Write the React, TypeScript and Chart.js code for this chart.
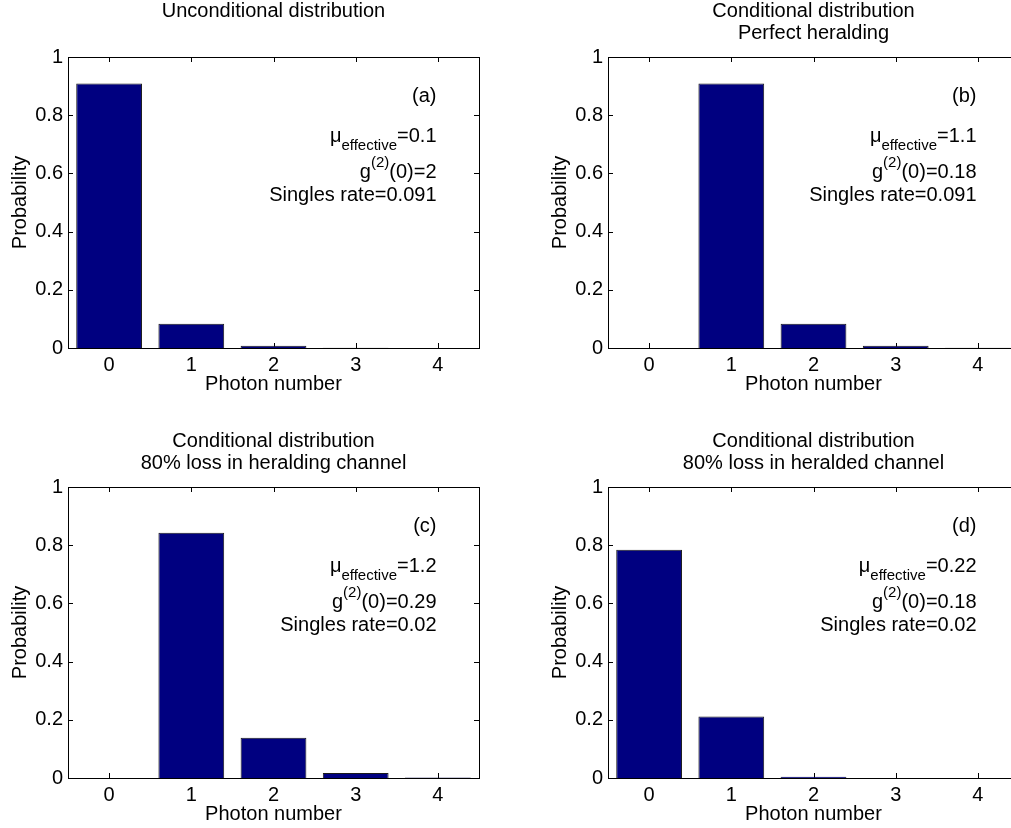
import React, { useEffect, useRef } from 'react';
import { Chart, registerables } from 'chart.js';

Chart.register(...registerables);

const FONT = '"Liberation Sans", Arial, Helvetica, sans-serif';

// ---- data ----
const photonNumbers = ['0', '1', '2', '3', '4'];
const yTickValues = [0, 0.2, 0.4, 0.6, 0.8, 1];

const probUnconditional = [0.909, 0.083, 0.0075, 0.0007, 0.0001];
const probPerfectHerald = [0, 0.909, 0.083, 0.0075, 0.0007];
const probHeraldingLoss = [0, 0.843, 0.138, 0.017, 0.002];
const probHeraldedLoss = [0.784, 0.211, 0.0045, 0.0002, 0];

const titleA = ['Unconditional distribution'];
const titleB = ['Conditional distribution', 'Perfect heralding'];
const titleC = ['Conditional distribution', '80% loss in heralding channel'];
const titleD = ['Conditional distribution', '80% loss in heralded channel'];

const panelLabels = ['(a)', '(b)', '(c)', '(d)'];
const muValues = ['0.1', '1.1', '1.2', '0.22'];
const g2Values = ['2', '0.18', '0.29', '0.18'];
const singlesValues = ['0.091', '0.091', '0.02', '0.02'];

type PanelProps = {
  values: number[];
  title: string[];
  label: string;
  mu: string;
  g2: string;
  singles: string;
  left: number;
  top: number;
};

const CANVAS_W = 505;
const CANVAS_H = 410;

function Panel({ values, title, label, mu, g2, singles, left, top }: PanelProps) {
  const ref = useRef<HTMLCanvasElement>(null);

  useEffect(() => {
    const canvas = ref.current;
    if (!canvas) return;

    const matlabPlugin = {
      id: 'matlabAxes',
      beforeDatasetsDraw(chart: any) {
        const { ctx, chartArea: a, scales } = chart;
        ctx.save();
        ctx.strokeStyle = '#000';
        ctx.lineWidth = 1;
        ctx.beginPath();
        yTickValues.forEach((v) => {
          const y = Math.round(scales.y.getPixelForValue(v)) + 0.5;
          ctx.moveTo(a.left, y);
          ctx.lineTo(a.left + 5, y);
          ctx.moveTo(a.right, y);
          ctx.lineTo(a.right - 5, y);
        });
        photonNumbers.forEach((_, i) => {
          const x = Math.round(scales.x.getPixelForValue(i)) + 0.5;
          ctx.moveTo(x, a.bottom);
          ctx.lineTo(x, a.bottom - 5);
          ctx.moveTo(x, a.top);
          ctx.lineTo(x, a.top + 5);
        });
        ctx.stroke();
        ctx.restore();
      },
      afterDatasetsDraw(chart: any) {
        const { ctx, chartArea: a } = chart;
        ctx.save();
        ctx.strokeStyle = '#000';
        ctx.lineWidth = 1;
        const l = Math.round(a.left) + 0.5;
        const t = Math.round(a.top) + 0.5;
        const r = Math.round(a.right) + 0.5;
        const b = Math.round(a.bottom) + 0.5;
        ctx.strokeRect(l, t, r - l, b - t);
        ctx.restore();
      },
      afterDraw(chart: any) {
        const { ctx, chartArea: a } = chart;
        const R = a.right - 42.5;
        const main = `20px ${FONT}`;
        const small = `15px ${FONT}`;
        ctx.save();
        ctx.fillStyle = '#000';
        ctx.textBaseline = 'middle';
        ctx.textAlign = 'left';
        const drawSegs = (segs: [string, string, number][], yc: number) => {
          const widths = segs.map(([t, f]) => {
            ctx.font = f;
            return ctx.measureText(t).width;
          });
          const total = widths.reduce((s, w) => s + w, 0);
          let x = R - total;
          segs.forEach(([t, f, dy], i) => {
            ctx.font = f;
            ctx.fillText(t, x, yc + dy);
            x += widths[i];
          });
        };
        drawSegs([[label, main, 0]], a.top + 39);
        drawSegs(
          [
            ['\u03bc', main, 0],
            ['effective', small, 10],
            ['=' + mu, main, 0],
          ],
          a.top + 79
        );
        drawSegs(
          [
            ['g', main, 0],
            ['(2)', small, -9],
            ['(0)=' + g2, main, 0],
          ],
          a.top + 115
        );
        drawSegs([['Singles rate=' + singles, main, 0]], a.top + 138);
        ctx.restore();
      },
    };

    const chart = new Chart(canvas, {
      type: 'bar',
      data: {
        labels: photonNumbers,
        datasets: [
          {
            data: values,
            backgroundColor: '#000080',
            borderColor: '#1a1a1a',
            borderWidth: 1,
            barPercentage: 0.8,
            categoryPercentage: 1,
          },
        ],
      },
      options: {
        animation: false,
        responsive: false,
        devicePixelRatio: 1,
        layout: { padding: { left: 0, right: 26, top: 0, bottom: 0 } },
        plugins: {
          legend: { display: false },
          tooltip: { enabled: false },
          title: {
            display: true,
            text: title,
            fullSize: false,
            color: '#000',
            font: { family: FONT, size: 20, weight: 'normal', lineHeight: '22.5px' },
            padding: { top: 0, bottom: title.length > 1 ? 12 : 34.5 },
          },
        },
        scales: {
          x: {
            grid: { display: false, drawTicks: false },
            border: { display: false },
            ticks: {
              color: '#000',
              font: { family: FONT, size: 20, lineHeight: 1.2 },
              padding: 5,
              maxRotation: 0,
            },
            title: {
              display: true,
              text: 'Photon number',
              color: '#000',
              font: { family: FONT, size: 20, lineHeight: 1.2 },
              padding: { top: 0, bottom: 14 },
            },
            afterFit: (s: any) => {
              s.height = 62;
            },
          },
          y: {
            min: 0,
            max: 1,
            grid: { display: false, drawTicks: false },
            border: { display: false },
            afterBuildTicks: (s: any) => {
              s.ticks = yTickValues.map((v) => ({ value: v }));
            },
            ticks: {
              color: '#000',
              font: { family: FONT, size: 20, lineHeight: 1.2 },
              padding: 5,
              callback: (v: any) => String(+Number(v).toFixed(1)),
            },
            title: {
              display: true,
              text: 'Probability',
              color: '#000',
              font: { family: FONT, size: 20, lineHeight: 1.2 },
              padding: { top: 8, bottom: 0 },
            },
            afterFit: (s: any) => {
              s.width = 68;
            },
          },
        },
      } as any,
      plugins: [matlabPlugin],
    });

    return () => {
      chart.destroy();
    };
  }, [values, title, label, mu, g2, singles]);

  return (
    <canvas
      ref={ref}
      width={CANVAS_W}
      height={CANVAS_H}
      style={{ position: 'absolute', left, top, width: CANVAS_W, height: CANVAS_H }}
    />
  );
}

export default function App() {
  return (
    <div
      style={{
        position: 'absolute',
        left: 0,
        top: 0,
        width: 1011,
        height: 828,
        overflow: 'hidden',
        background: '#fff',
      }}
    >
      <Panel values={probUnconditional} title={titleA} label={panelLabels[0]} mu={muValues[0]} g2={g2Values[0]} singles={singlesValues[0]} left={0} top={0} />
      <Panel values={probPerfectHerald} title={titleB} label={panelLabels[1]} mu={muValues[1]} g2={g2Values[1]} singles={singlesValues[1]} left={540} top={0} />
      <Panel values={probHeraldingLoss} title={titleC} label={panelLabels[2]} mu={muValues[2]} g2={g2Values[2]} singles={singlesValues[2]} left={0} top={430} />
      <Panel values={probHeraldedLoss} title={titleD} label={panelLabels[3]} mu={muValues[3]} g2={g2Values[3]} singles={singlesValues[3]} left={540} top={430} />
    </div>
  );
}
